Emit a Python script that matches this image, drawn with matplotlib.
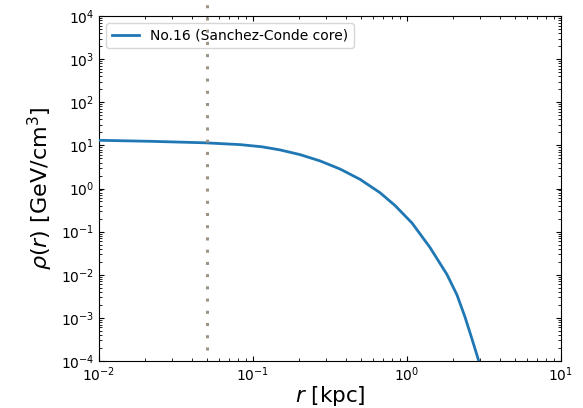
import matplotlib
matplotlib.use("Agg")
import matplotlib.pyplot as plt

# Data
r_kpc = [0.0100, 0.02144, 0.04879, 0.08231, 0.11437, 0.14972, 0.20190, 0.27227,
         0.36721, 0.49518, 0.66775, 0.83588, 1.0777, 1.4106, 1.8183, 2.1122,
         2.3804, 2.6430, 2.8907, 3.1623]
rho = [13.115, 12.43, 11.47, 10.42, 9.268, 7.856, 6.111, 4.365,
       2.833, 1.634, 0.7991, 0.4035, 0.1585, 0.04284, 0.01013, 0.003392,
       0.001048, 0.0003236, 0.0001143, 0.00003824]
series_label = "No.16 (Sanchez-Conde core)"
r_mark = 0.05
xlim = (1e-2, 1e1)
ylim = (1e-4, 1e4)

fig = plt.figure(figsize=(5.83, 4.08), dpi=100)
ax = fig.add_axes([99/583, 47/408, 462/583, 345/408])

ax.plot(r_kpc, rho, color="#1f77b4", lw=2, label=series_label, zorder=3,
        solid_joinstyle="round")
ax.plot([r_mark, r_mark], [1.8e-4, 1e5], color="#9d9385", lw=2.2,
        linestyle=(0, (1, 3)), clip_on=False, zorder=6)

ax.set_xscale("log")
ax.set_yscale("log")
ax.set_xlim(*xlim)
ax.set_ylim(*ylim)
ax.set_yticks([10.0**k for k in range(-4, 5)])
ax.set_xticks([10.0**k for k in range(-2, 2)])
ax.tick_params(which="both", direction="in", top=True, right=True, labelsize=10)
ax.set_xlabel(r"$r$ [kpc]", fontsize=15.5, labelpad=0)
ax.set_ylabel(r"$\rho(r)$ [GeV/cm$^3$]", fontsize=16, labelpad=4)
ax.legend(loc="upper left", fontsize=10)

fig.savefig("out.png", dpi=100)
